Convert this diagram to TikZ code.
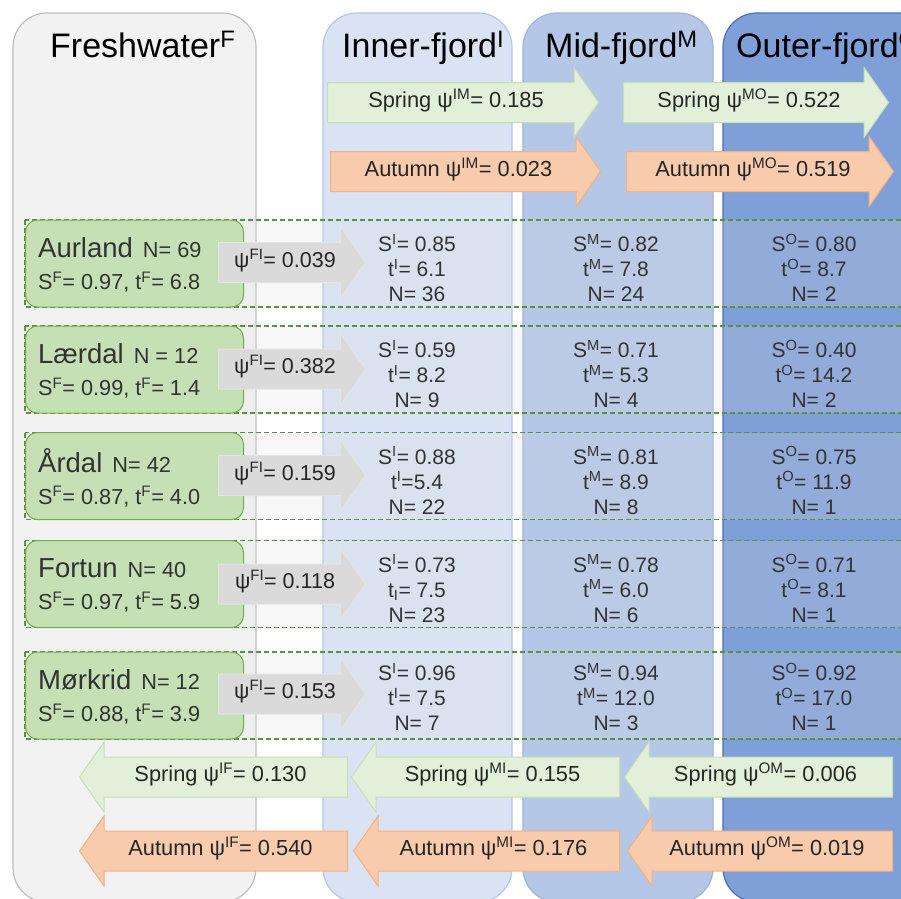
\documentclass[tikz,border=0pt]{standalone}
\usepackage{fontspec}
\setmainfont{Liberation Sans}
\usetikzlibrary{shapes.arrows}

\definecolor{freshfill}{HTML}{F2F2F2}
\definecolor{freshline}{HTML}{BFBFBF}
\definecolor{innerfill}{HTML}{DAE3F3}
\definecolor{innerline}{HTML}{B4C7E7}
\definecolor{midfill}{HTML}{B4C7E7}
\definecolor{midline}{HTML}{9DB5E0}
\definecolor{outerfill}{HTML}{7F9FD8}
\definecolor{outerline}{HTML}{4A70BC}
\definecolor{springfill}{HTML}{E2F0D9}
\definecolor{springline}{HTML}{C5E0B4}
\definecolor{autumnfill}{HTML}{F8CBAD}
\definecolor{autumnline}{HTML}{F4B183}
\definecolor{sitefill}{HTML}{C5E0B4}
\definecolor{siteline}{HTML}{70AD47}
\definecolor{bandline}{HTML}{5B9240}
\definecolor{psifill}{HTML}{DADADA}
\definecolor{psiline}{HTML}{E4E4E4}

\begin{document}
\begin{tikzpicture}[x=1pt,y=-1pt,
    panel/.style={rounded corners=34pt, line width=1.2pt},
    header/.style={anchor=base west, inner sep=0pt, font=\fontsize{34}{40}\selectfont},
    band/.style={draw=bandline, dash pattern=on 5pt off 3pt, line width=1.2pt,
        fill=gray!25, fill opacity=0.2},
    site/.style={draw=siteline, fill=sitefill, rounded corners=12pt, line width=1pt,
        minimum width=218pt, minimum height=87pt, anchor=west, inner sep=0pt},
    sitetext/.style={anchor=west, align=left, inner sep=0pt, text=black!80,
        font=\fontsize{21.7}{32}\selectfont},
    stage/.style={align=center, inner sep=0pt, text=black!80,
        font=\fontsize{21}{25}\selectfont},
    move/.style={single arrow, single arrow tip angle=110, inner xsep=0pt,
        inner ysep=10pt, text height=14pt, text depth=5pt, line width=1pt,
        text=black!85, font=\fontsize{21.8}{25}\selectfont, anchor=tail},
    spring/.style={move, draw=springline, fill=springfill,
        single arrow head extend=15pt},
    autumn/.style={move, draw=autumnline, fill=autumnfill,
        single arrow head extend=15pt},
    entry/.style={move, draw=psiline, fill=psifill, font=\fontsize{21.5}{25}\selectfont,
        single arrow head extend=16pt, minimum height=147pt},
    back/.style={shape border rotate=180}
]
\useasboundingbox (0,0) rectangle (901,898);
\clip (0,0) rectangle (901,898);
\fill[white] (0,0) rectangle (901,898);

% habitat columns
\draw[panel, draw=freshline, fill=freshfill] (13,13) rectangle (256,902);
\draw[panel, draw=innerline, fill=innerfill] (323,13) rectangle (512,902);
\draw[panel, draw=midline, fill=midfill] (523,13) rectangle (713,902);
\draw[panel, draw=outerline, fill=outerfill] (723,13) rectangle (950,902);

\node[header] (fresh) at (50,57) {Freshwater\textsuperscript{F}};
\node[header] (inner) at (342,57) {Inner-fjord\textsuperscript{I}};
\node[header] (mid) at (545,57) {Mid-fjord\textsuperscript{M}};
\node[header] (outer) at (736,57) {Outer-fjord\textsuperscript{O}};

% seaward movements
\node[spring, minimum height=271pt] (springIM) at (327,102.5)
    {Spring ψ\textsuperscript{IM}= 0.185};
\node[autumn, minimum height=270pt] (autumnIM) at (330,171.5)
    {Autumn ψ\textsuperscript{IM}= 0.023};
\node[spring, minimum height=265pt] (springMO) at (623,102.5)
    {Spring ψ\textsuperscript{MO}= 0.522};
\node[autumn, minimum height=267pt] (autumnMO) at (626,171.5)
    {Autumn ψ\textsuperscript{MO}= 0.519};

% rivers
\draw[band] (25,220) rectangle (920,307);
\draw[band] (25,326) rectangle (920,413);
\draw[band] (25,432.5) rectangle (920,519.5);
\draw[band] (25,540.5) rectangle (920,627.5);
\draw[band] (25,652) rectangle (920,739);

\node[site] (aurland) at (25,263.5) {};
\node[site] (laerdal) at (25,369.5) {};
\node[site] (ardal) at (25,476) {};
\node[site] (fortun) at (25,584) {};
\node[site] (morkrid) at (25,695.5) {};

\node[sitetext] (aurlandtext) at (38,265)
    {{\fontsize{27.5}{30}\selectfont Aurland}\hspace{10pt}N= 69\\
     S\textsuperscript{F}= 0.97, t\textsuperscript{F}= 6.8};
\node[sitetext] (laerdaltext) at (38,371)
    {{\fontsize{27.5}{30}\selectfont Lærdal}\hspace{10pt}N = 12\\
     S\textsuperscript{F}= 0.99, t\textsuperscript{F}= 1.4};
\node[sitetext] (ardaltext) at (38,477.5)
    {{\fontsize{27.5}{30}\selectfont Årdal}\hspace{10pt}N= 42\\
     S\textsuperscript{F}= 0.87, t\textsuperscript{F}= 4.0};
\node[sitetext] (fortuntext) at (38,585.5)
    {{\fontsize{27.5}{30}\selectfont Fortun}\hspace{10pt}N= 40\\
     S\textsuperscript{F}= 0.97, t\textsuperscript{F}= 5.9};
\node[sitetext] (morkridtext) at (38,697)
    {{\fontsize{27.5}{30}\selectfont Mørkrid}\hspace{10pt}N= 12\\
     S\textsuperscript{F}= 0.88, t\textsuperscript{F}= 3.9};

\node[entry] (aurlandpsi) at (218,262.5) {ψ\textsuperscript{FI}= 0.039};
\node[entry] (laerdalpsi) at (218,369) {ψ\textsuperscript{FI}= 0.382};
\node[entry] (ardalpsi) at (218,475.5) {ψ\textsuperscript{FI}= 0.159};
\node[entry] (fortunpsi) at (218,584) {ψ\textsuperscript{FI}= 0.118};
\node[entry] (morkridpsi) at (218,694) {ψ\textsuperscript{FI}= 0.153};

\node[stage] (aurlandI) at (417,268)
    {S\textsuperscript{I}= 0.85\\t\textsuperscript{I}= 6.1\\N= 36};
\node[stage] (aurlandM) at (616,268)
    {S\textsuperscript{M}= 0.82\\t\textsuperscript{M}= 7.8\\N= 24};
\node[stage] (aurlandO) at (814,268)
    {S\textsuperscript{O}= 0.80\\t\textsuperscript{O}= 8.7\\N= 2};

\node[stage] (laerdalI) at (417,374)
    {S\textsuperscript{I}= 0.59\\t\textsuperscript{I}= 8.2\\N= 9};
\node[stage] (laerdalM) at (616,374)
    {S\textsuperscript{M}= 0.71\\t\textsuperscript{M}= 5.3\\N= 4};
\node[stage] (laerdalO) at (814,374)
    {S\textsuperscript{O}= 0.40\\t\textsuperscript{O}= 14.2\\N= 2};

\node[stage] (ardalI) at (417,480.5)
    {S\textsuperscript{I}= 0.88\\t\textsuperscript{I}=5.4\\N= 22};
\node[stage] (ardalM) at (616,480.5)
    {S\textsuperscript{M}= 0.81\\t\textsuperscript{M}= 8.9\\N= 8};
\node[stage] (ardalO) at (814,480.5)
    {S\textsuperscript{O}= 0.75\\t\textsuperscript{O}= 11.9\\N= 1};

\node[stage] (fortunI) at (417,588.5)
    {S\textsuperscript{I}= 0.73\\t\textsubscript{I}= 7.5\\N= 23};
\node[stage] (fortunM) at (616,588.5)
    {S\textsuperscript{M}= 0.78\\t\textsuperscript{M}= 6.0\\N= 6};
\node[stage] (fortunO) at (814,588.5)
    {S\textsuperscript{O}= 0.71\\t\textsuperscript{O}= 8.1\\N= 1};

\node[stage] (morkridI) at (417,697)
    {S\textsuperscript{I}= 0.96\\t\textsuperscript{I}= 7.5\\N= 7};
\node[stage] (morkridM) at (616,697)
    {S\textsuperscript{M}= 0.94\\t\textsuperscript{M}= 12.0\\N= 3};
\node[stage] (morkridO) at (814,697)
    {S\textsuperscript{O}= 0.92\\t\textsuperscript{O}= 17.0\\N= 1};

% landward movements
\node[spring, back, minimum height=268pt] (springIF) at (348,777)
    {Spring ψ\textsuperscript{IF}= 0.130};
\node[autumn, back, minimum height=268pt] (autumnIF) at (348,851)
    {Autumn ψ\textsuperscript{IF}= 0.540};
\node[spring, back, minimum height=268pt] (springMI) at (620,777)
    {Spring ψ\textsuperscript{MI}= 0.155};
\node[autumn, back, minimum height=266pt] (autumnMI) at (620,851)
    {Autumn ψ\textsuperscript{MI}= 0.176};
\node[spring, back, minimum height=268pt] (springOM) at (893,777)
    {Spring ψ\textsuperscript{OM}= 0.006};
\node[autumn, back, minimum height=265pt] (autumnOM) at (893,851)
    {Autumn ψ\textsuperscript{OM}= 0.019};
\end{tikzpicture}
\end{document}
